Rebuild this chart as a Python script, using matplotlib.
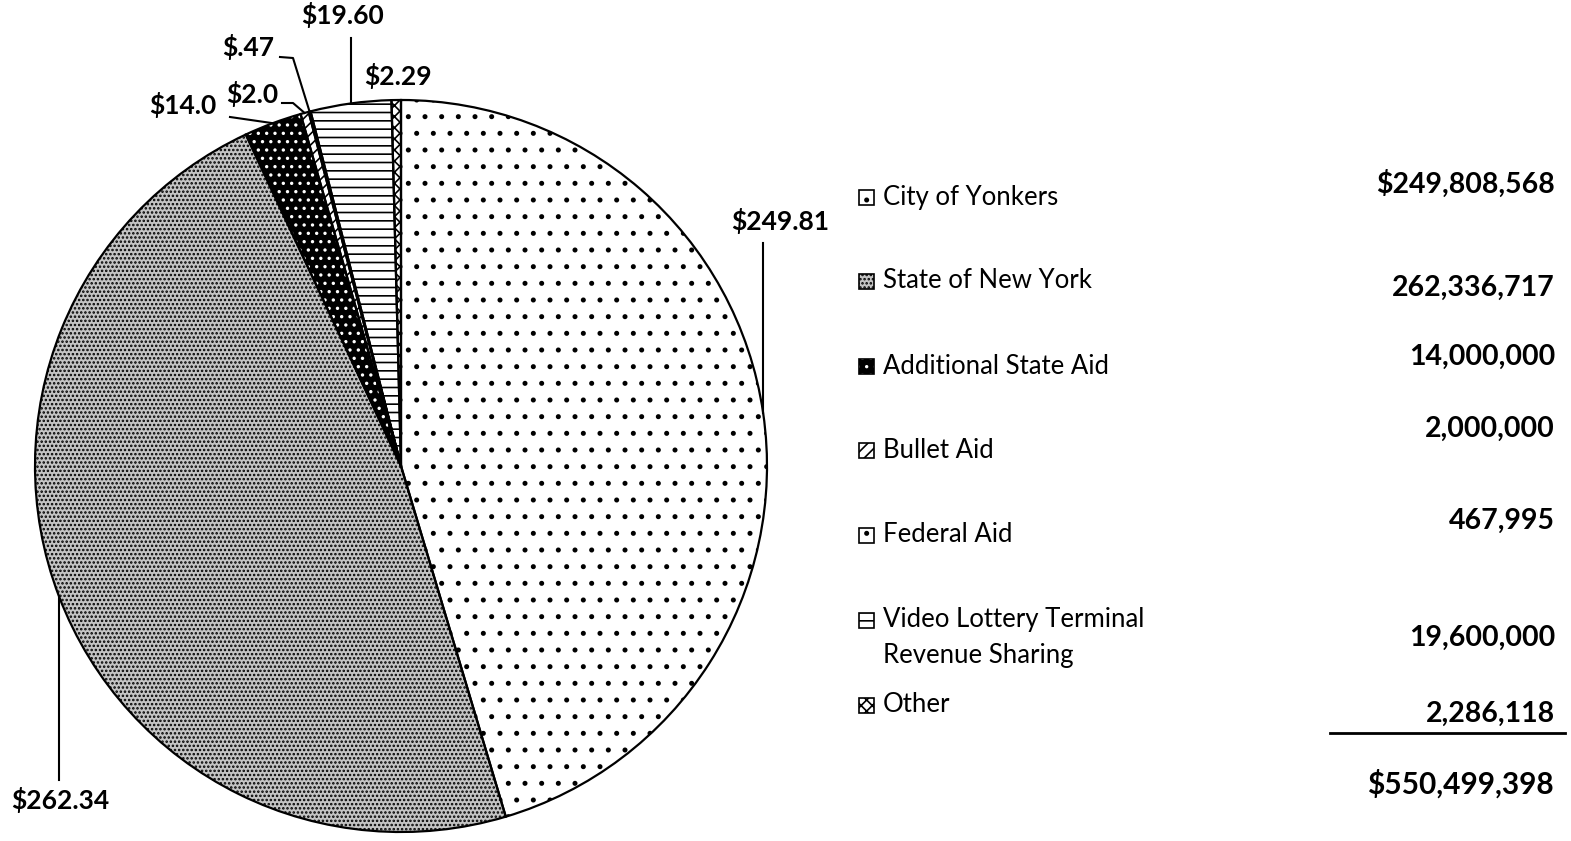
import matplotlib.pyplot as plt
from matplotlib.patches import Rectangle
import numpy as np

plt.rcParams['font.family'] = ['Lato', 'DejaVu Sans']
plt.rcParams['hatch.linewidth'] = 1.2

# revenue sources (dollars)
sources = ["City of Yonkers", "State of New York", "Additional State Aid", "Bullet Aid",
           "Federal Aid", "Video Lottery Terminal\nRevenue Sharing", "Other"]
amounts = [249808568, 262336717, 14000000, 2000000, 467995, 19600000, 2286118]
pie_labels = ["$249.81", "$262.34", "$14.0", "$2.0", "$.47", "$19.60", "$2.29"]
value_labels = ["$249,808,568", "262,336,717", "14,000,000", "2,000,000",
                "467,995", "19,600,000", "2,286,118"]
total_label = "${:,}".format(sum(amounts))

faces = ["white", "#c4c4c4", "black", "white", "white", "white", "white"]
hcols = ["black", "black", "white", "black", "black", "black", "black"]
hatches = [".", "....", "..", "///", ".", "--", "xxx"]

# pixel layout -> data coords (pie centre at 401,466 with radius 366 px)
CX, CY, R = 401, 466, 366


def px(x, y):
    return (x - CX) / R, (CY - y) / R


fig = plt.figure(figsize=(15.71, 8.41), dpi=100)
ax = fig.add_axes([0, 0, 1, 1])

wedges, _ = ax.pie(amounts, startangle=90, counterclock=False, radius=1,
                   wedgeprops=dict(linewidth=0))
for w, fc, hc, h in zip(wedges, faces, hcols, hatches):
    w.set_facecolor(fc)
    w.set_edgecolor(hc)
    w.set_hatch(h)
# outlines
ax.pie(amounts, startangle=90, counterclock=False, radius=1,
       wedgeprops=dict(fill=False, edgecolor="black", linewidth=1.6))

ax.set_xlim(px(0, 0)[0], px(1571, 0)[0])
ax.set_ylim(px(0, 841)[1], px(0, 0)[1])
ax.axis("off")

# leader lines: elbow points (pixels) after the wedge edge, and label centre
leaders = [
    ([(762, 243)], (780, 221)),
    ([(59, 780)], (60, 800)),
    ([(230, 117)], (183, 105)),
    ([(293, 103), (282, 103)], (252, 94)),
    ([(293, 58), (280, 57)], (248, 47)),
    ([(350, 38)], (343, 15)),
    ([], (398, 76)),
]
for w, lab, (pts, tpos) in zip(wedges, pie_labels, leaders):
    mid = np.deg2rad((w.theta1 + w.theta2) / 2)
    x0, y0 = np.cos(mid), np.sin(mid)
    if pts:
        if lab in ("$249.81", "$262.34", "$19.60"):
            xs = [x0, x0]
            ys = [y0, px(*pts[0])[1]]
        else:
            xs = [x0] + [px(*p)[0] for p in pts]
            ys = [y0] + [px(*p)[1] for p in pts]
        ax.plot(xs, ys, color="black", linewidth=1.5)
    tx, ty = px(*tpos)
    ax.text(tx, ty, lab, ha="center", va="center", fontsize=19, fontweight="bold")

# legend-like table
row_y = [197, 281, 366, 450, 535, 620, 705]
val_y = [184, 288, 357, 429, 521, 638, 714]
sq = 15
for i, name in enumerate(sources):
    x0, y0 = px(859, row_y[i] + 8)
    s = sq / R
    ax.add_patch(Rectangle((x0, y0), s, s, facecolor=faces[i], edgecolor=hcols[i],
                           hatch=hatches[i], linewidth=0))
    ax.add_patch(Rectangle((x0, y0), s, s, fill=False, edgecolor="black", linewidth=1.2))
    if "\n" in name:
        tx, ty = px(883, row_y[i] + 17)
        ax.text(tx, ty, name, ha="left", va="center", fontsize=18.5, linespacing=1.55)
    else:
        tx, ty = px(883, row_y[i])
        ax.text(tx, ty, name, ha="left", va="center", fontsize=18.5)
    vx, vy = px(1555, val_y[i])
    ax.text(vx, vy, value_labels[i], ha="right", va="center", fontsize=20.5, fontweight="bold")

lx0, ly = px(1330, 733)
lx1, _ = px(1565, 733)
ax.plot([lx0, lx1], [ly, ly], color="black", linewidth=2)
tx, ty = px(1554, 784)
ax.text(tx, ty, total_label, ha="right", va="center", fontsize=21.5, fontweight="bold")

fig.savefig("out.png", dpi=100)
